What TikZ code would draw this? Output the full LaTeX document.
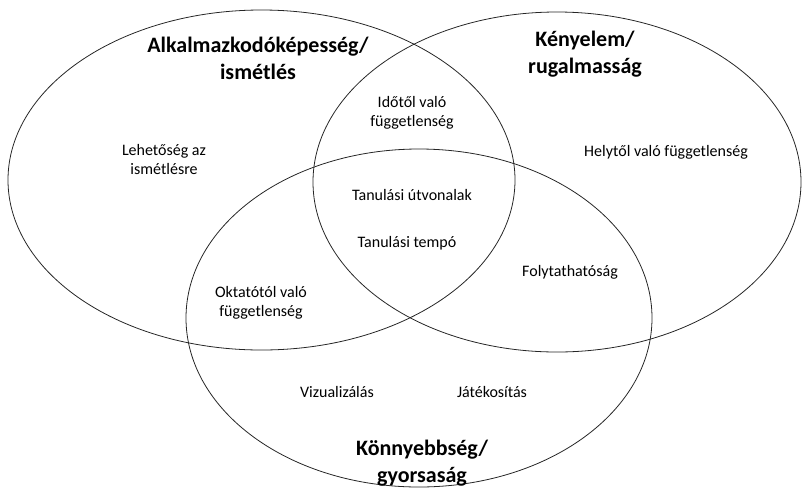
\documentclass[tikz,border=0pt]{standalone}
\usepackage{fontspec}
\setmainfont{Carlito}

\begin{document}
\begin{tikzpicture}
  [x=1pt,y=-1pt,
   every node/.style={align=center,font=\fontsize{16}{19}\selectfont},
   title/.style={font=\fontsize{22}{27}\selectfont\bfseries},
   set/.style={draw=black!85,line width=0.8pt}]
  \useasboundingbox (0,0) rectangle (805,488);

  % the three sets
  \draw[set] (261.5,180) ellipse [x radius=253.5, y radius=170];
  \draw[set] (557,182) ellipse [x radius=244, y radius=170];
  \draw[set] (419,318) ellipse [x radius=233, y radius=169];

  \node[title] (alk) at (258,58.5) {Alkalmazkodóképesség/\\ismétlés};
  \node[title] (keny) at (585,54) {Kényelem/\\rugalmasság};
  \node[title] (konny) at (422,463.5) {Könnyebbség/\\gyorsaság};

  \node (lehet) at (164,159) {Lehetőség az\\ismétlésre};
  \node (ido) at (412,112.5) {Időtől való\\függetlenség};
  \node (hely) at (666,152) {Helytől való függetlenség};
  \node (utvonal) at (412,195) {Tanulási útvonalak};
  \node (tempo) at (407,243) {Tanulási tempó};
  \node (okt) at (261,302.5) {Oktatótól való\\függetlenség};
  \node (foly) at (570,272) {Folytathatóság};
  \node (viz) at (337,392) {Vizualizálás};
  \node (jat) at (492,392) {Játékosítás};
\end{tikzpicture}
\end{document}
